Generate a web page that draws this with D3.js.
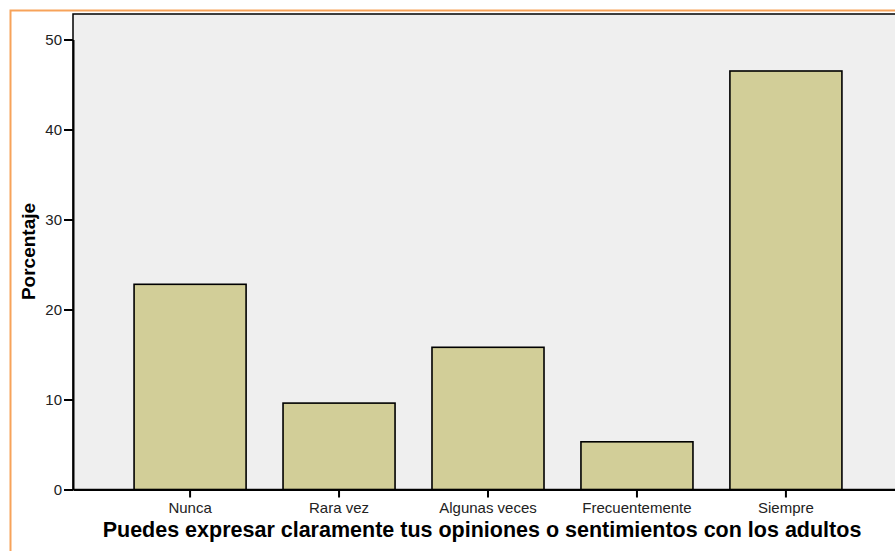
<!DOCTYPE html>
<html><head><meta charset="utf-8">
<script src="https://cdn.jsdelivr.net/npm/d3@7"></script>
<style>body{margin:0;background:#fff;}svg{display:block;font-family:"Liberation Sans",Arial,sans-serif;}</style>
</head><body>
<svg id="c" width="895" height="551"></svg>
<script>
const categories = ["Nunca","Rara vez","Algunas veces","Frecuentemente","Siempre"];
const values = [22.8, 9.6, 15.8, 5.3, 46.5];
const yTicks = [0,10,20,30,40,50];
const xTitle = "Puedes expresar claramente tus opiniones o sentimientos con los adultos";
const yTitle = "Porcentaje";

const svg = d3.select("#c");
svg.append("rect").attr("x",10.5).attr("y",10.5).attr("width",1000).attr("height",1000)
  .attr("fill","none").attr("stroke","#f7a35a").attr("stroke-width",2);

const mLeft = 73, mTop = 14, mRight = 903, mBottom = 489.5;
const x = d3.scaleBand().domain(categories).range([mLeft, mRight]).paddingInner(0.248).paddingOuter(0.41);
const y = d3.scaleLinear().domain([0,50]).range([mBottom, mBottom-450]);

svg.append("rect").attr("x",mLeft).attr("y",mTop).attr("width",mRight-mLeft).attr("height",mBottom-mTop)
  .attr("fill","#efefef").attr("stroke","#000").attr("stroke-width",1.5);

svg.selectAll("rect.bar").data(values).enter().append("rect").attr("class","bar")
  .attr("x",(d,i)=>x(categories[i])).attr("width",x.bandwidth())
  .attr("y",d=>y(d)).attr("height",d=>mBottom-y(d))
  .attr("fill","#d2ce98").attr("stroke","#000").attr("stroke-width",1.6);

const ya = svg.append("g").attr("transform",`translate(${mLeft},0)`)
  .call(d3.axisLeft(y).tickValues(yTicks).tickSize(9).tickSizeOuter(0).tickPadding(2));
ya.select(".domain").attr("stroke","#000").attr("stroke-width",2);
ya.selectAll(".tick line").attr("stroke","#000").attr("stroke-width",2);
ya.selectAll("text").attr("font-size",15).attr("fill","#222").attr("font-family","Liberation Sans, Arial, sans-serif");

const xa = svg.append("g").attr("transform",`translate(0,${mBottom})`)
  .call(d3.axisBottom(x).tickSize(8).tickSizeOuter(0).tickPadding(5));
xa.select(".domain").attr("stroke","#000").attr("stroke-width",2);
xa.selectAll(".tick line").attr("stroke","#000").attr("stroke-width",2);
xa.selectAll("text").attr("font-size",15).attr("fill","#222").attr("font-family","Liberation Sans, Arial, sans-serif");

svg.append("text").attr("x",482).attr("y",537).attr("text-anchor","middle")
  .attr("font-size",21.5).attr("font-weight","bold").attr("fill","#000").text(xTitle);
svg.append("text").attr("transform","translate(35,251.5) rotate(-90)").attr("text-anchor","middle")
  .attr("font-size",19).attr("font-weight","bold").attr("fill","#000").text(yTitle);
</script>
</body></html>
